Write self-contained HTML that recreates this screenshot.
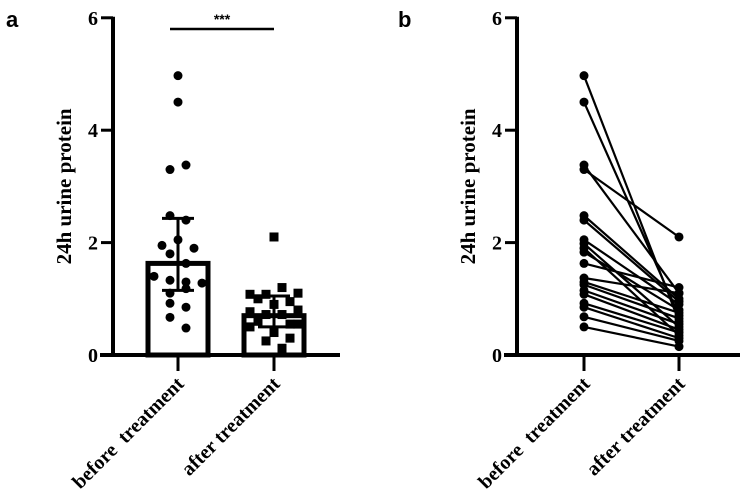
<!DOCTYPE html>
<html><head><meta charset="utf-8"><style>
body{margin:0;background:#fff;}
svg{display:block;font-family:"Liberation Serif",serif;font-weight:bold;}
.p{font-family:"Liberation Sans",sans-serif;font-weight:bold;}
text{white-space:pre;}
</style></head><body>
<svg id="c" width="750" height="504" viewBox="0 0 750 504"></svg>
<script>
const categories = ["before  treatment", "after treatment"];
const yTicks = [0, 2, 4, 6];
const beforeVals = [4.97,4.5,3.3,3.38,2.48,2.4,1.95,2.05,1.9,1.8,1.63,1.4,1.33,1.3,1.28,1.1,1.18,0.92,0.85,0.67,0.48];
const afterVals = [2.1,1.2,1.1,1.08,1.08,1.0,0.95,0.9,0.8,0.77,0.72,0.72,0.6,0.55,0.55,0.5,0.4,0.25,0.3,0.12];
const beforeJitter = [0,0,-8,8,-8,8,-16,0,16,-8,8,-24,-8,8,24,-8,8,-8,8,-8,8];
const afterJitter = [0,8,24,-24,-8,-16,16,0,24,-24,-8,8,-16,16,24,-24,0,-8,16,8];
const barMeans = [1.63, 0.7];
const errUpper = [2.43, 1.05];
const errLower = [1.15, 0.5];
const pairBefore = [4.97,4.5,3.38,3.3,2.48,2.4,2.05,1.98,1.9,1.83,1.63,1.37,1.3,1.25,1.15,1.08,0.92,0.85,0.68,0.5];
const pairAfter = [0.6,0.7,1.1,2.1,1.0,0.95,0.9,0.5,0.35,0.8,1.2,1.1,0.75,0.65,0.55,0.45,0.4,0.3,0.25,0.15];

const svg = document.getElementById('c');
const NS = 'http://www.w3.org/2000/svg';
function mk(tag, attrs, parent){const e=document.createElementNS(NS,tag);for(const k in attrs)e.setAttribute(k,attrs[k]);(parent||svg).appendChild(e);return e;}
const y0 = 355, ppu = 56.2;
const Y = v => y0 - v*ppu;

function axes(ax, xEnd, xs, gname){
  const g = mk('g',{});
  
  
  const yl = mk('line',{x1:ax,y1:Y(6)-1,x2:ax,y2:y0+2,stroke:'#000','stroke-width':4},g);
  
  
  const xl = mk('line',{x1:ax-13,y1:y0,x2:xEnd,y2:y0,stroke:'#000','stroke-width':4},g);
  
  
  yTicks.forEach(t=>{
    mk('line',{x1:ax-12,y1:Y(t),x2:ax,y2:Y(t),stroke:'#000','stroke-width':3},g);
    const tx = mk('text',{x:ax-15,y:Y(t)+7,'text-anchor':'end','font-size':20},g);
    tx.textContent = t;
    
    
  });
  xs.forEach((x,i)=>{
    mk('line',{x1:x,y1:y0,x2:x,y2:y0+16,stroke:'#000','stroke-width':3},g);
    const tx = mk('text',{x:x+7,y:y0+30,'text-anchor':'end','font-size':20,transform:`rotate(-45 ${x+7} ${y0+30})`},g);
    tx.textContent = categories[i];
    
    
  });
  const tt = mk('text',{x:0,y:0,'text-anchor':'middle','font-size':21,transform:`translate(${ax-42} ${Y(3)}) rotate(-90)`},g);
  tt.textContent = '24h urine protein';
  
  
}

// Panel a
const la = mk('text',{x:6,y:27,'font-size':22,class:'p'}); la.textContent='a';
 
const xa = [178, 274];
axes(113, 340, xa, 'panel-a-axes');
barMeans.forEach((m,i)=>{
  const b = mk('rect',{x:xa[i]-30,y:Y(m),width:60,height:y0-Y(m),fill:'none',stroke:'#000','stroke-width':5});
  
  
});
beforeVals.forEach((v,i)=>{
  const c = mk('circle',{cx:xa[0]+beforeJitter[i],cy:Y(v),r:4.5,fill:'#000'});
  
  
});
afterVals.forEach((v,i)=>{
  const r = mk('rect',{x:xa[1]+afterJitter[i]-4.5,y:Y(v)-4.5,width:9,height:9,fill:'#000'});
  
  
});
barMeans.forEach((m,i)=>{
  const g = mk('g',{stroke:'#000','stroke-width':3});
  
  
  mk('line',{x1:xa[i],y1:Y(errUpper[i]),x2:xa[i],y2:Y(errLower[i])},g);
  mk('line',{x1:xa[i]-16,y1:Y(errUpper[i]),x2:xa[i]+16,y2:Y(errUpper[i])},g);
  mk('line',{x1:xa[i]-16,y1:Y(errLower[i]),x2:xa[i]+16,y2:Y(errLower[i])},g);
});
const sl = mk('line',{x1:170,y1:29,x2:274,y2:29,stroke:'#000','stroke-width':2.5});
 
const st = mk('text',{x:222,y:24,'text-anchor':'middle','font-size':14,class:'p'}); st.textContent='***';
 

// Panel b
const lb = mk('text',{x:398,y:27,'font-size':22,class:'p'}); lb.textContent='b';
 
const xb = [584, 679];
axes(517, 740, xb, 'panel-b-axes');
pairBefore.forEach((v,i)=>{
  const g = mk('g',{});
  
  
  mk('line',{x1:xb[0],y1:Y(v),x2:xb[1],y2:Y(pairAfter[i]),stroke:'#000','stroke-width':2.2},g);
  mk('circle',{cx:xb[0],cy:Y(v),r:4.5,fill:'#000'},g);
  mk('circle',{cx:xb[1],cy:Y(pairAfter[i]),r:4.5,fill:'#000'},g);
});
</script>
</body></html>
